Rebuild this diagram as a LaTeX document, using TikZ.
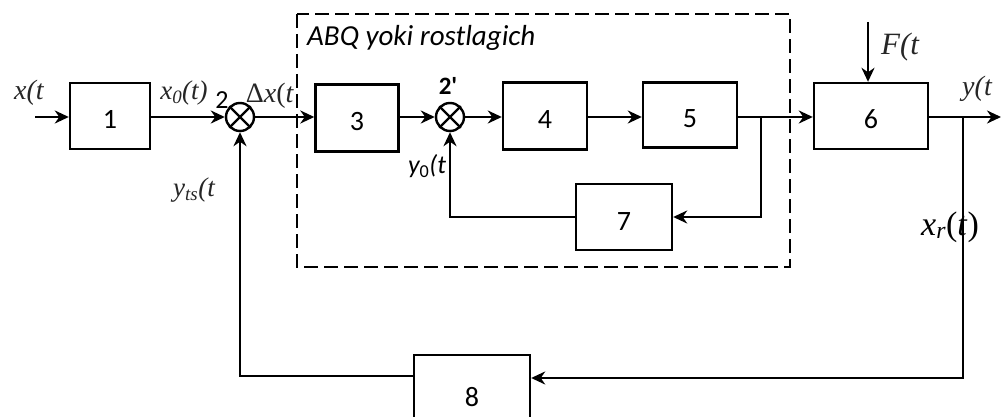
\documentclass[tikz,border=0pt]{standalone}
\usepackage{fontspec}
\setmainfont{Carlito}
\newfontfamily\tms{Liberation Serif}
\usetikzlibrary{arrows.meta}
\begin{document}
\begin{tikzpicture}[x=1pt,y=-1pt,
  line width=2.4pt,
  blk/.style={draw,line width=2.4pt,anchor=center,inner sep=0pt,text height=26pt,text depth=0pt,font=\fontsize{28}{30}\selectfont},
  sumc/.style={draw,circle,line width=2.4pt,minimum size=28pt,inner sep=0pt},
  arr/.style={-{Stealth[length=14pt,width=13pt,inset=4.5pt]}},
  lab/.style={inner sep=0pt,text=black!85,font=\tms\itshape\fontsize{28}{30}\selectfont},
  slab/.style={inner sep=0pt,font=\fontsize{26}{28}\selectfont}]
\useasboundingbox (0,0) rectangle (1001,417);
% dashed region
\draw[line width=2.4pt,dash pattern=on 14pt off 6pt] (297,14) rectangle (790,267);
\node[slab,anchor=west,font=\itshape\fontsize{29}{31}\selectfont] (abq) at (306,38) {ABQ yoki rostlagich};
% blocks
\node[blk,minimum width=80pt,minimum height=66pt] (b1) at (110,116) {1};
\node[sumc] (s2) at (240,117) {};
\node[blk,minimum width=83pt,minimum height=67pt] (b3) at (357,118) {3};
\node[sumc] (s2p) at (450,117) {};
\node[blk,minimum width=84pt,minimum height=67pt] (b4) at (545,116) {4};
\node[blk,minimum width=94pt,minimum height=65pt] (b5) at (690,115) {5};
\node[blk,minimum width=114pt,minimum height=66pt] (b6) at (871,116) {6};
\node[blk,minimum width=96pt,minimum height=66pt] (b7) at (624,217) {7};
\node[blk,minimum width=116pt,minimum height=76pt] (b8) at (472,393) {8};
% crosses in summers
\draw (s2.45) -- (s2.225) (s2.135) -- (s2.315);
\draw (s2p.45) -- (s2p.225) (s2p.135) -- (s2p.315);
% coordinates
\coordinate (xin) at (35,117);
\coordinate (fin) at (868,22);
\coordinate (yout) at (1001,117);
\coordinate (br5) at (761,117);
\coordinate (br6) at (963,117);
% connectors
\draw[arr] (xin) -- (b1.west |- xin);
\draw[arr] (b1.east |- s2) -- (s2.west);
\draw[arr] (s2.east) -- (b3.west |- s2);
\draw[arr] (b3.east |- s2p) -- (s2p.west);
\draw[arr] (s2p.east) -- (b4.west |- s2p);
\draw[arr] (b4.east |- s2p) -- (b5.west |- s2p);
\draw[arr] (b5.east |- br5) -- (b6.west |- br5);
\draw[arr] (b6.east |- br6) -- (yout);
\draw[arr] (fin) -- (b6.north -| fin);
\draw[arr] (br5) -- (br5 |- b7.east) -- (b7.east);
\draw[arr] (b7.west) -- (s2p |- b7.west) -- (s2p.south);
\draw[arr] (br6) -- (br6 |- 0,378) -- (b8.east |- 0,378);
\draw[arr] (b8.west |- 0,376) -- (s2 |- 0,376) -- (s2.south);
% labels
\node[lab] (lx) at (29,93) {x(t};
\node[lab,font=\tms\itshape\fontsize{27}{29}\selectfont] (lx0) at (184,93) {x\textsubscript{0}(t)};
\node[slab] (l2) at (222,100) {2};
\node[lab,font=\tms\fontsize{28}{30}\selectfont] (ldx) at (270,96) {Δ\textit{x}(\textit{t}};
\node[lab,font=\tms\itshape\fontsize{27}{29}\selectfont] (lyts) at (194,190) {y\textsubscript{ts}(t};
\node[slab,font=\bfseries\fontsize{25}{27}\selectfont] (l2p) at (448,86) {2\textquotesingle};
\node[slab,font=\itshape\fontsize{26}{28}\selectfont] (ly0) at (427,166) {y\textsubscript{\upshape 0}(t};
\node[lab,font=\tms\itshape\fontsize{31}{33}\selectfont] (lF) at (900,47) {F(t};
\node[lab] (ly) at (977,89) {y(t};
\node[lab,font=\tms\fontsize{34}{36}\selectfont,text=black] (lxr) at (950,227) {\textit{x\textsubscript{r}}(\textit{t})};
\end{tikzpicture}
\end{document}
